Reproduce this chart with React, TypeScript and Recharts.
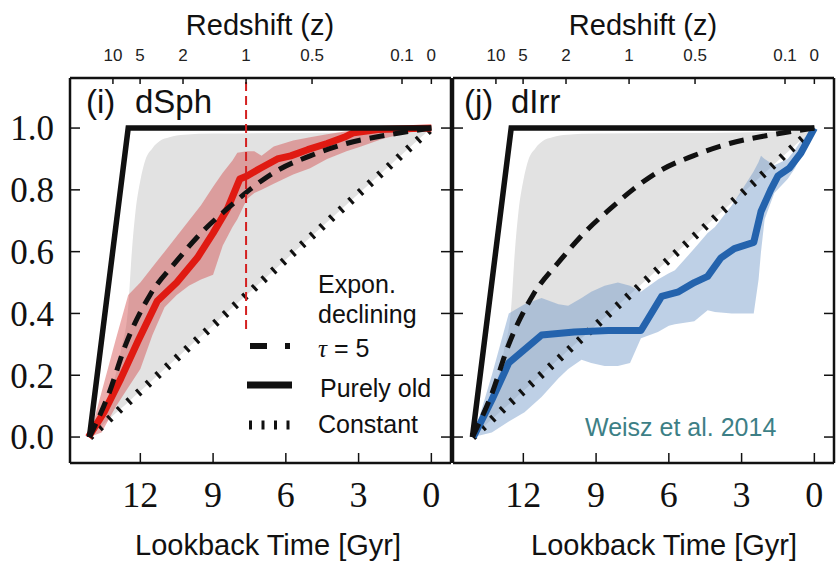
import React from "react";
import { ComposedChart, Line, Area, XAxis, YAxis, ReferenceLine } from "recharts";

// lookback time [Gyr] axis, reversed (old on the left)
const LOOKBACK_TICKS = [12, 9, 6, 3, 0];
const FRACTION_TICKS = [0, 0.2, 0.4, 0.6, 0.8, 1.0];
const Z_LABELS = ["10", "5", "2", "1", "0.5", "0.1", "0"];
const Z_TICK_T = [13.13, 12.01, 10.24, 7.64, 4.92, 1.21, 0];

// model SFHs (shared by both panels)
const TAU5_T = [14.1, 13.3, 12.6, 11.6, 10.5, 9.5, 8.4, 7.5, 6.3, 5.0, 3.5, 2.0, 0];
const TAU5_F = [0, 0.14, 0.3, 0.46, 0.57, 0.66, 0.74, 0.8, 0.865, 0.91, 0.95, 0.975, 1.0];
const OLD_T = [14.1, 12.5, 0];
const OLD_F = [0, 1, 1];
const CONST_T = [14.1, 0];
const CONST_F = [0, 1];

// grey envelope: between constant SFH and the fast-rise limit
const GREY_T = [14.1, 13.4, 12.8, 12.5, 12.35, 12.2, 12.0, 11.8, 11.5, 11.2, 10.8, 10.2, 9.0, 3.0, 1.2, 0];
const GREY_LO = [0, 0.05, 0.092, 0.113, 0.124, 0.135, 0.149, 0.163, 0.184, 0.206, 0.234, 0.277, 0.362, 0.787, 0.915, 1.0];
const GREY_HI = [0, 0.1, 0.28, 0.42, 0.6, 0.73, 0.83, 0.895, 0.935, 0.958, 0.97, 0.978, 0.982, 0.986, 0.99, 1.0];

// dSph median + band
const DSPH_T = [14.14, 13.5, 12.8, 12.1, 11.3, 10.5, 9.65, 9.0, 8.4, 7.9, 7.6, 7.05, 6.35, 5.8, 5.1, 4.3, 3.6, 3.2, 2.2, 0];
const DSPH_F = [0, 0.08, 0.19, 0.31, 0.44, 0.5, 0.58, 0.66, 0.74, 0.835, 0.845, 0.87, 0.9, 0.91, 0.93, 0.95, 0.97, 0.985, 0.995, 1.0];
const DSPH_BAND_T = [14.1, 13.6, 13.0, 12.5, 12.0, 11.5, 11.0, 10.5, 10.0, 9.5, 9.0, 8.6, 8.2, 8.0, 7.6, 7.3, 7.0, 6.5, 5.7, 5.0, 4.3, 3.5, 2.9, 2.0, 1.0, 0];
const DSPH_LO = [0, 0.015, 0.1, 0.16, 0.22, 0.33, 0.42, 0.46, 0.49, 0.51, 0.525, 0.62, 0.68, 0.705, 0.77, 0.79, 0.8, 0.82, 0.85, 0.87, 0.9, 0.925, 0.94, 0.965, 0.985, 1.0];
const DSPH_HI = [0, 0.145, 0.32, 0.46, 0.5, 0.55, 0.6, 0.65, 0.7, 0.75, 0.81, 0.855, 0.895, 0.92, 0.925, 0.925, 0.91, 0.94, 0.96, 0.97, 0.98, 0.99, 1.0, 1.0, 1.0, 1.0];

// dIrr median + band
const DIRR_T = [14.06, 13.3, 12.6, 11.25, 9.9, 8.5, 7.15, 6.3, 5.6, 4.95, 4.4, 3.85, 3.3, 2.5, 2.2, 1.8, 1.5, 1.03, 0.55, 0];
const DIRR_F = [0, 0.12, 0.24, 0.33, 0.34, 0.345, 0.345, 0.455, 0.47, 0.5, 0.52, 0.58, 0.61, 0.63, 0.73, 0.8, 0.845, 0.87, 0.92, 1.0];
const DIRR_BAND_T = [14.06, 13.3, 12.6, 11.95, 11.25, 10.55, 10.15, 9.6, 9.2, 8.65, 8.1, 7.6, 7.15, 6.45, 6.0, 5.75, 4.95, 4.4, 4.1, 3.4, 2.7, 2.5, 2.3, 2.2, 2.05, 1.65, 1.1, 0.8, 0.55, 0];
const DIRR_LO = [0, 0.015, 0.05, 0.08, 0.13, 0.19, 0.22, 0.25, 0.24, 0.23, 0.23, 0.24, 0.32, 0.34, 0.36, 0.365, 0.375, 0.41, 0.405, 0.4, 0.4, 0.4, 0.51, 0.6, 0.705, 0.79, 0.835, 0.87, 0.91, 1.0];
const DIRR_HI = [0, 0.2, 0.4, 0.43, 0.45, 0.43, 0.425, 0.45, 0.47, 0.49, 0.5, 0.49, 0.47, 0.51, 0.53, 0.54, 0.61, 0.66, 0.68, 0.75, 0.835, 0.86, 0.89, 0.91, 0.9, 0.88, 0.9, 0.93, 0.96, 1.0];

const X_DOMAIN = [-0.81, 14.9];
const Y_DOMAIN = [-0.084, 1.162];

const line = (ts: number[], fs: number[]) => ts.map((t, i) => ({ t, f: fs[i] }));
const band = (ts: number[], lo: number[], hi: number[]) => ts.map((t, i) => ({ t, r: [lo[i], hi[i]] }));

const SANS = '"Liberation Sans", Arial, sans-serif';
const SERIF = '"Liberation Serif", "Times New Roman", serif';
const FRAME = { stroke: "#111", strokeWidth: 2.5 };
const TICKLINE = { stroke: "#111", strokeWidth: 1.5 };

interface PanelProps {
  width: number;
  margin: { top: number; right: number; bottom: number; left: number };
  leftAxisWidth: number;
  showYLabels: boolean;
  median: { t: number; f: number }[];
  bandData: { t: number; r: number[] }[];
  color: string;
  bandColor: string;
  zLine?: boolean;
}

function Panel({ width, margin, leftAxisWidth, showYLabels, median, bandData, color, bandColor, zLine }: PanelProps) {
  return (
    <ComposedChart width={width} height={565} margin={margin}>
      <XAxis
        xAxisId="b"
        type="number"
        dataKey="t"
        domain={X_DOMAIN}
        allowDataOverflow
        reversed
        ticks={LOOKBACK_TICKS}
        interval={0}
        height={40}
        tickSize={-10}
        tickMargin={28}
        axisLine={FRAME}
        tickLine={TICKLINE}
        tick={{ fontSize: 36, fontFamily: SERIF, fill: "#111" }}
      />
      <XAxis
        xAxisId="z"
        orientation="top"
        type="number"
        dataKey="t"
        domain={X_DOMAIN}
        allowDataOverflow
        reversed
        ticks={Z_TICK_T}
        interval={0}
        height={40}
        tickSize={-6}
        tickMargin={23}
        tickFormatter={(v: number) => Z_LABELS[Z_TICK_T.indexOf(v)] ?? ""}
        axisLine={FRAME}
        tickLine={TICKLINE}
        tick={{ fontSize: 17, fontFamily: SANS, fill: "#222" }}
      />
      <YAxis
        yAxisId="l"
        type="number"
        domain={Y_DOMAIN}
        allowDataOverflow
        ticks={FRACTION_TICKS}
        interval={0}
        width={leftAxisWidth}
        tickSize={-10}
        tickMargin={26}
        tickFormatter={(v: number) => (showYLabels ? v.toFixed(1) : "")}
        axisLine={FRAME}
        tickLine={TICKLINE}
        tick={{ fontSize: 35, fontFamily: SERIF, fill: "#111" }}
      />
      <YAxis
        yAxisId="r"
        orientation="right"
        type="number"
        domain={Y_DOMAIN}
        allowDataOverflow
        ticks={FRACTION_TICKS}
        interval={0}
        width={1}
        tickSize={-10}
        tickFormatter={() => ""}
        axisLine={FRAME}
        tickLine={TICKLINE}
      />

      <Area
        xAxisId="b"
        yAxisId="l"
        data={band(GREY_T, GREY_LO, GREY_HI)}
        dataKey="r"
        type="monotone"
        fill="#e2e2e2"
        fillOpacity={1}
        stroke="none"
        isAnimationActive={false}
      />
      <Area
        xAxisId="b"
        yAxisId="l"
        data={bandData}
        dataKey="r"
        type="linear"
        fill={bandColor}
        fillOpacity={0.45}
        stroke="none"
        isAnimationActive={false}
      />
      <Line
        xAxisId="b"
        yAxisId="l"
        data={line(CONST_T, CONST_F)}
        dataKey="f"
        stroke="#111"
        strokeWidth={8}
        strokeDasharray="3 10"
        dot={false}
        isAnimationActive={false}
      />
      <Line
        xAxisId="b"
        yAxisId="l"
        data={median}
        dataKey="f"
        type="linear"
        stroke={color}
        strokeWidth={7}
        strokeLinejoin="round"
        dot={false}
        isAnimationActive={false}
      />
      <Line
        xAxisId="b"
        yAxisId="l"
        data={line(TAU5_T, TAU5_F)}
        dataKey="f"
        type="monotone"
        stroke="#111"
        strokeWidth={5}
        strokeDasharray="15 9"
        dot={false}
        isAnimationActive={false}
      />
      <Line
        xAxisId="b"
        yAxisId="l"
        data={line(OLD_T, OLD_F)}
        dataKey="f"
        type="linear"
        stroke="#111"
        strokeWidth={5.5}
        dot={false}
        isAnimationActive={false}
      />
      {zLine && (
        <ReferenceLine
          xAxisId="b"
          yAxisId="l"
          segment={[
            { x: Z_TICK_T[3], y: 0.35 },
            { x: Z_TICK_T[3], y: Y_DOMAIN[1] },
          ]}
          stroke="#d42020"
          strokeWidth={2}
          strokeDasharray="9 5"
        />
      )}
    </ComposedChart>
  );
}

function Overlay() {
  const txt = { fontFamily: SANS, fill: "#111" };
  return (
    <svg width={838} height={565} style={{ position: "absolute", left: 0, top: 0, pointerEvents: "none" }}>
      <text x={260} y={35} textAnchor="middle" fontSize={29} {...txt}>Redshift (z)</text>
      <text x={643} y={35} textAnchor="middle" fontSize={29} {...txt}>Redshift (z)</text>
      <text x={268} y={555} textAnchor="middle" fontSize={29} {...txt}>Lookback Time [Gyr]</text>
      <text x={664} y={555} textAnchor="middle" fontSize={29} {...txt}>Lookback Time [Gyr]</text>

      <text x={86} y={113} fontSize={33} {...txt}>(i)</text>
      <text x={135} y={113} fontSize={33} {...txt}>dSph</text>
      <text x={464} y={113} fontSize={33} {...txt}>(j)</text>
      <text x={511} y={113} fontSize={33} {...txt}>dIrr</text>

      <text x={318} y={293} fontSize={25} {...txt}>Expon.</text>
      <text x={318} y={323} fontSize={25} {...txt}>declining</text>
      <text x={318} y={357} fontSize={25} {...txt}>
        <tspan fontFamily={SERIF} fontStyle="italic">τ</tspan> = 5
      </text>
      <text x={320} y={397} fontSize={25} {...txt}>Purely old</text>
      <text x={318} y={433} fontSize={25} {...txt}>Constant</text>
      <line x1={250} y1={346} x2={290} y2={346} stroke="#111" strokeWidth={6} strokeDasharray="17 18" />
      <line x1={247} y1={385} x2={292} y2={385} stroke="#111" strokeWidth={7} />
      <line x1={249} y1={425} x2={292} y2={425} stroke="#111" strokeWidth={9} strokeDasharray="3 9.5" />

      <text x={585} y={436} fontSize={25} fontFamily={SANS} fill="#3d7f86">Weisz et al. 2014</text>
    </svg>
  );
}

export default function App() {
  return (
    <div style={{ position: "absolute", left: 0, top: 0, width: 838, height: 565, background: "#fff", overflow: "hidden" }}>
      <div style={{ position: "absolute", left: 0, top: 0 }}>
        <Panel
          width={452}
          margin={{ top: 38, right: 0, bottom: 62, left: 10 }}
          leftAxisWidth={60}
          showYLabels
          median={line(DSPH_T, DSPH_F)}
          bandData={band(DSPH_BAND_T, DSPH_LO, DSPH_HI)}
          color="#e01a12"
          bandColor="#d24a4a"
          zLine
        />
      </div>
      <div style={{ position: "absolute", left: 452, top: 0 }}>
        <Panel
          width={386}
          margin={{ top: 38, right: 3, bottom: 62, left: 0 }}
          leftAxisWidth={1}
          showYLabels={false}
          median={line(DIRR_T, DIRR_F)}
          bandData={band(DIRR_BAND_T, DIRR_LO, DIRR_HI)}
          color="#2463ad"
          bandColor="#6f97c8"
        />
      </div>
      <Overlay />
    </div>
  );
}
